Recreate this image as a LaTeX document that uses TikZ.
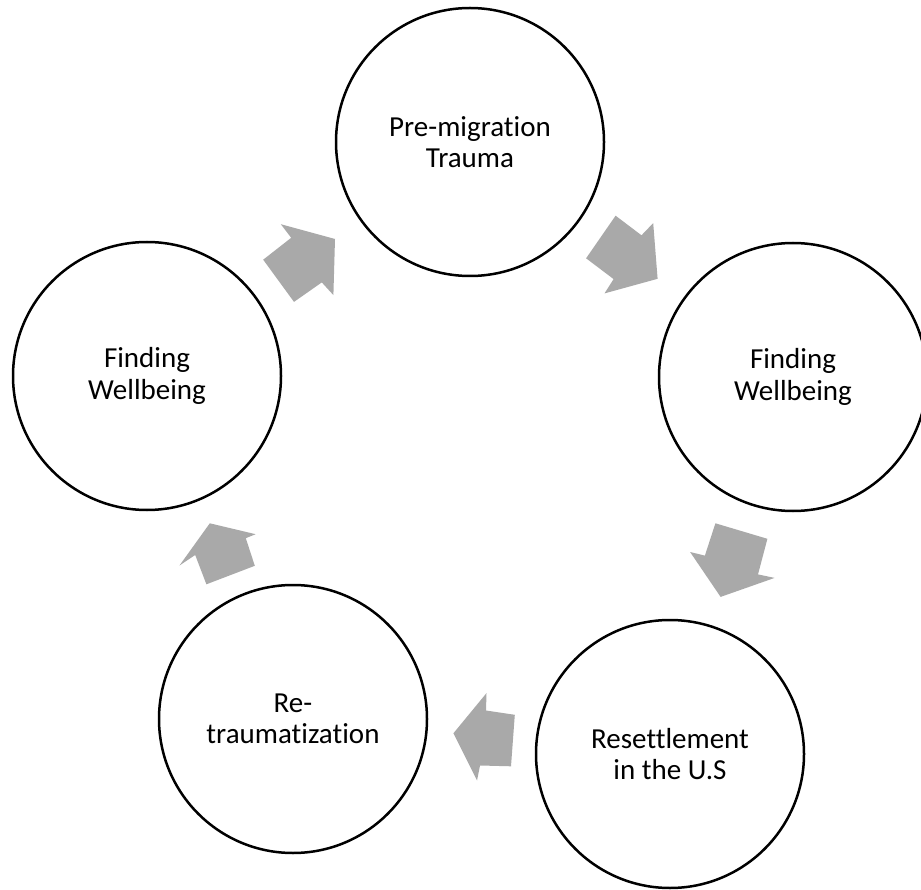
\documentclass[tikz,border=0pt]{standalone}
\usepackage{fontspec}
\setmainfont{Carlito}[Ligatures=NoCommon]
\definecolor{arrowgray}{RGB}{169,169,169}
\tikzset{
  circ/.style={circle, draw=black, line width=2.5pt, minimum size=268pt, inner sep=0pt,
    align=center, font=\fontsize{29}{31.5}\selectfont},
  blockarrow/.style={fill=arrowgray, draw=none}
}
\begin{document}
\begin{tikzpicture}[x=1pt,y=-1pt]
\clip (0,0) rectangle (921,890);
\useasboundingbox (0,0) rectangle (921,890);
\fill[white] (0,0) rectangle (921,890);

\node[circ] (c1) at (470,142) {Pre-migration\\Trauma};
\node[circ] (c2) at (793,377) {Finding\\Wellbeing};
\node[circ] (c3) at (670,754) {Resettlement\\in the U.S};
\node[circ] (c4) at (293,719) {Re-\\traumatization};
\node[circ] (c5) at (147,376) {Finding\\Wellbeing};

% left -> top
\fill[blockarrow] (263.2,259.7) -- (291.2,237.8) -- (280.8,224.2) -- (335,239) -- (333.4,295.1) -- (321.8,282.4) -- (294,301.9) -- cycle;
% top -> right
\fill[blockarrow] (615.6,215.7) -- (641.5,235.3) -- (653.2,223.1) -- (657.6,278.8) -- (604.5,293.4) -- (613.6,279.1) -- (586.1,258.3) -- cycle;
% right -> bottom right
\fill[blockarrow] (715.4,523.3) -- (767.4,538.8) -- (758,574.4) -- (774.6,577.9) -- (720.6,596.9) -- (690.1,552) -- (704.9,555.6) -- cycle;
% bottom right -> bottom left
\fill[blockarrow] (486.5,693.1) -- (486,710.5) -- (514.8,714.8) -- (511,766.3) -- (480,765.5) -- (477,780.5) -- (453.4,733.3) -- cycle;
% bottom left -> left
\fill[blockarrow] (209.8,523.3) -- (255.6,534.2) -- (245.8,538.2) -- (254.8,565.8) -- (206.4,584.3) -- (195.2,555) -- (179.5,565.5) -- cycle;
\end{tikzpicture}
\end{document}
